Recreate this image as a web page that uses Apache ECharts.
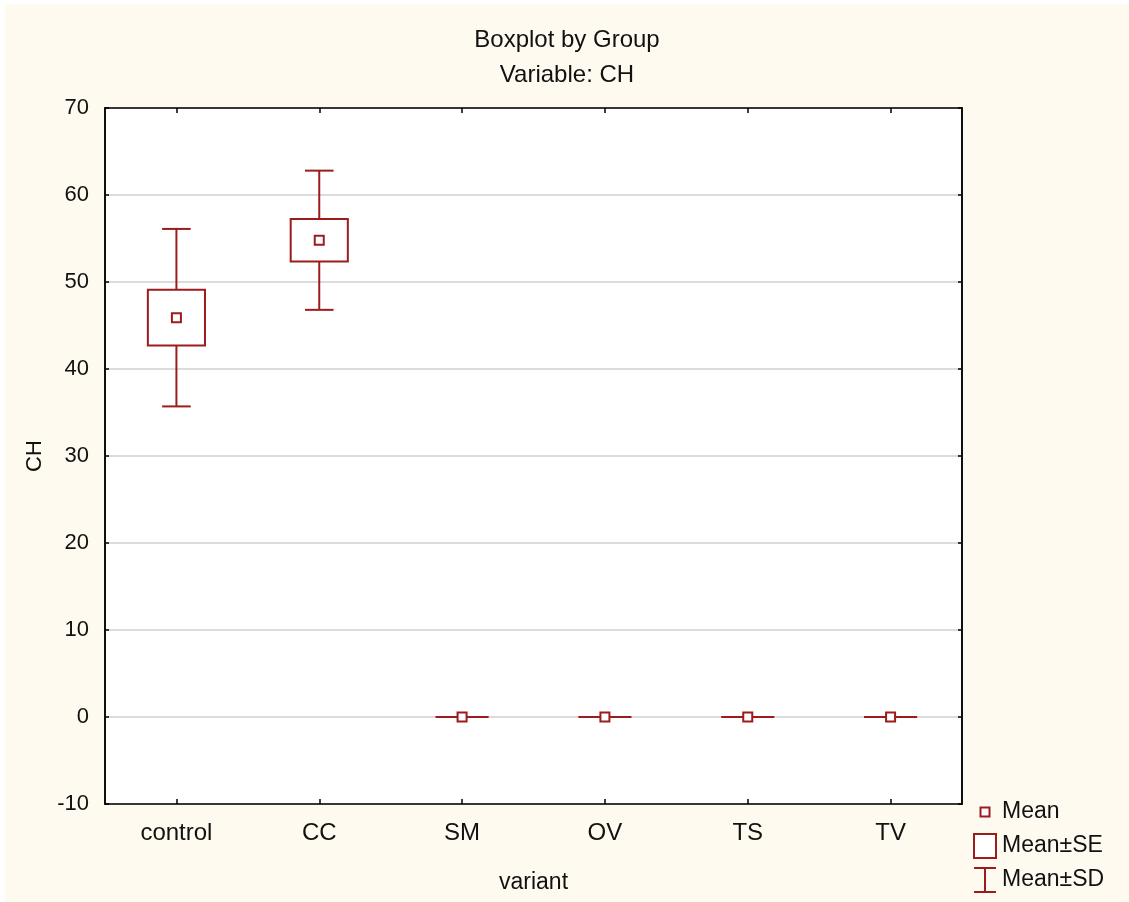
<!DOCTYPE html>
<html>
<head>
<meta charset="utf-8">
<script src="https://cdn.jsdelivr.net/npm/echarts@6/dist/echarts.min.js"></script>
<style>
  html, body { margin: 0; padding: 0; background: #ffffff; }
  #chart { position: absolute; left: 5px; top: 4px; width: 1124px; height: 898px; background: #fffaf0; }
</style>
</head>
<body>
<div id="chart"></div>
<script>
// values
let categories = ['control', 'CC', 'SM', 'OV', 'TS', 'TV'];
let means = [45.9, 54.8, 0, 0, 0, 0];
let seValues = [3.2, 2.45, 0, 0, 0, 0];
let sdValues = [10.2, 8.0, 0, 0, 0, 0];
let yTicks = { min: -10, max: 70, step: 10 };

let red = '#9c1c1c';
let font = 'Liberation Sans, Arial, sans-serif';

let chart = echarts.init(document.getElementById('chart'));

let rows = categories.map((c, i) => [i, means[i], seValues[i], sdValues[i]]);

function sdItem(params, api) {
    let x = api.value(0), m = api.value(1), sd = api.value(3);
    let top = api.coord([x, m + sd]);
    let bot = api.coord([x, m - sd]);
    let half = api.size([1, 0])[0] * 0.1;
    let st = { stroke: red, lineWidth: 2 };
    return {
        type: 'group',
        children: [
            { type: 'line', shape: { x1: top[0], y1: top[1], x2: bot[0], y2: bot[1] }, style: st },
            { type: 'line', shape: { x1: top[0] - half, y1: top[1], x2: top[0] + half, y2: top[1] }, style: st },
            { type: 'line', shape: { x1: bot[0] - half, y1: bot[1], x2: bot[0] + half, y2: bot[1] }, style: st }
        ]
    };
}

function seItem(params, api) {
    let x = api.value(0), m = api.value(1), se = api.value(2);
    let top = api.coord([x, m + se]);
    let bot = api.coord([x, m - se]);
    let w = api.size([1, 0])[0] * 0.4;
    if (bot[1] - top[1] < 1) {
        // collapsed box: just a flat line
        return {
            type: 'line',
            shape: { x1: top[0] - w / 2 + 2, y1: top[1], x2: top[0] + w / 2 - 2, y2: top[1] },
            style: { stroke: red, lineWidth: 2 }
        };
    }
    return {
        type: 'rect',
        shape: { x: top[0] - w / 2, y: top[1], width: w, height: bot[1] - top[1] },
        style: { fill: '#fff', stroke: red, lineWidth: 2 }
    };
}

function meanItem(params, api) {
    let p = api.coord([api.value(0), api.value(1)]);
    return {
        type: 'rect',
        shape: { x: p[0] - 4.5, y: p[1] - 4.5, width: 9, height: 9 },
        style: { fill: '#fff', stroke: red, lineWidth: 2 }
    };
}

let legendStyle = { color: '#fff', borderColor: red, borderWidth: 2 };
let tickStyle = { show: true, inside: true, interval: 0, alignWithLabel: true, length: 5, lineStyle: { color: '#000', width: 1.5 } };

let option = {
    animation: false,
    title: {
        text: 'Boxplot by Group\nVariable: CH',
        left: 'center',
        top: 14,
        textStyle: { fontFamily: font, fontSize: 24, fontWeight: 'normal', color: '#111', lineHeight: 35 }
    },
    legend: {
        orient: 'vertical',
        left: 967,
        top: 794,
        padding: 0,
        itemWidth: 24,
        itemHeight: 26,
        itemGap: 6,
        textStyle: { fontFamily: font, fontSize: 23, color: '#111' },
        data: [
            { name: 'Mean', icon: 'path://M0 0M24 26M7.5 8.5h9v9h-9z', itemStyle: legendStyle },
            { name: 'Mean±SE', icon: 'path://M0 0M24 26M1 1h22v24H1z', itemStyle: legendStyle },
            { name: 'Mean±SD', icon: 'path://M0 0M24 26M1 1h22M12 1v24M1 25h22', itemStyle: legendStyle }
        ]
    },
    grid: {
        left: 100, top: 104, right: 167, bottom: 98,
        show: true, backgroundColor: '#ffffff', borderColor: '#000', borderWidth: 1.5
    },
    xAxis: [{
        type: 'category',
        data: categories,
        position: 'bottom',
        name: 'variant',
        nameLocation: 'middle',
        nameGap: 67,
        nameTextStyle: { fontFamily: font, fontSize: 23, color: '#111' },
        axisLine: { onZero: false, lineStyle: { color: '#000', width: 1.5 } },
        axisTick: tickStyle,
        axisLabel: { fontFamily: font, fontSize: 24, color: '#111', margin: 17 },
        splitLine: { show: false },
        z: 5
    }, {
        type: 'category',
        data: categories,
        position: 'top',
        axisLine: { onZero: false, lineStyle: { color: '#000', width: 1.5 } },
        axisTick: tickStyle,
        axisLabel: { show: false },
        z: 5
    }],
    yAxis: [{
        type: 'value',
        min: yTicks.min, max: yTicks.max, interval: yTicks.step,
        position: 'left',
        name: 'CH',
        nameLocation: 'middle',
        nameGap: 59,
        nameTextStyle: { fontFamily: font, fontSize: 22, color: '#111' },
        axisLine: { show: true, onZero: false, lineStyle: { color: '#000', width: 1.5 } },
        axisTick: { show: true, inside: true, length: 4, lineStyle: { color: '#000', width: 1.5 } },
        axisLabel: { fontFamily: font, fontSize: 22, color: '#111', margin: 16 },
        splitLine: { show: true, lineStyle: { color: '#dcdcdc', width: 2 } }
    }, {
        type: 'value',
        min: yTicks.min, max: yTicks.max, interval: yTicks.step,
        position: 'right',
        axisLine: { show: true, onZero: false, lineStyle: { color: '#000', width: 1.5 } },
        axisTick: { show: true, inside: true, length: 4, lineStyle: { color: '#000', width: 1.5 } },
        axisLabel: { show: false },
        splitLine: { show: false }
    }],
    series: [{
        name: 'Mean±SD',
        type: 'custom',
        renderItem: sdItem,
        itemStyle: { color: red },
        encode: { x: 0, y: 1 },
        data: rows,
        z: 2
    }, {
        name: 'Mean±SE',
        type: 'custom',
        renderItem: seItem,
        itemStyle: { color: red },
        encode: { x: 0, y: 1 },
        data: rows,
        z: 3
    }, {
        name: 'Mean',
        type: 'custom',
        renderItem: meanItem,
        itemStyle: { color: red },
        encode: { x: 0, y: 1 },
        data: rows,
        z: 4
    }]
};

chart.setOption(option);
</script>
</body>
</html>
